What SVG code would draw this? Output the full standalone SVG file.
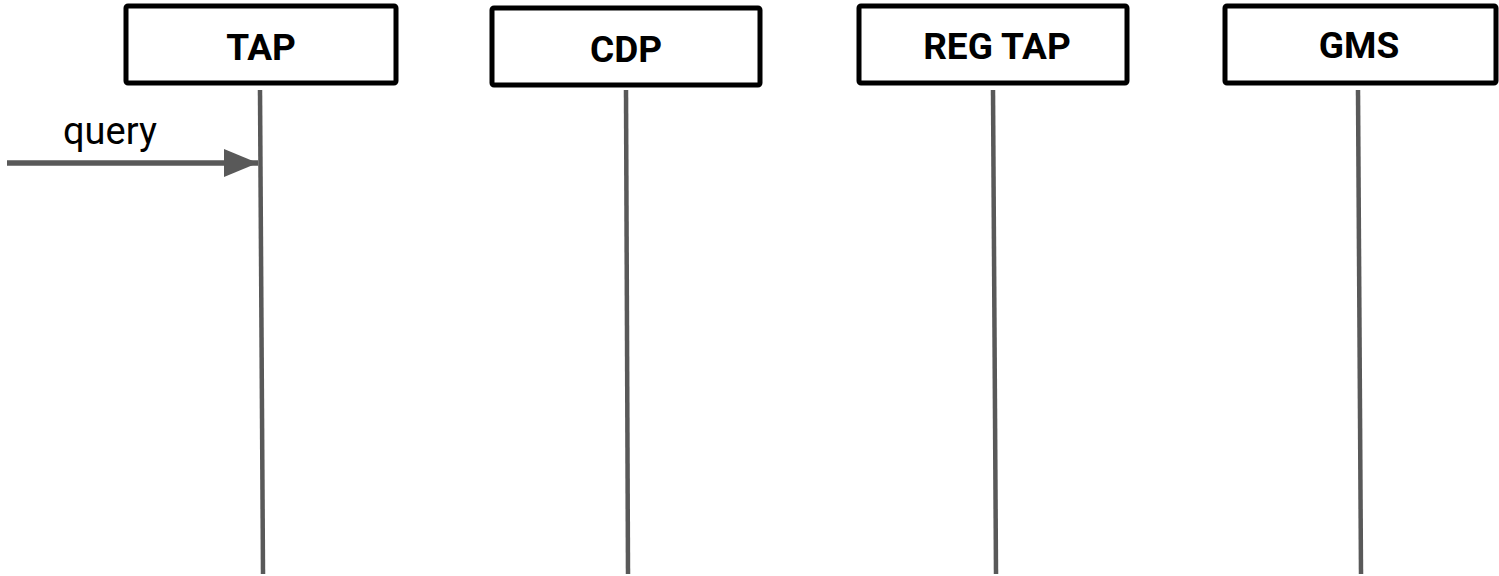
<svg xmlns="http://www.w3.org/2000/svg" width="1499" height="576" viewBox="0 0 1499 576">
<style>
.box{fill:#fff;stroke:#000;stroke-width:5;stroke-linejoin:round}
.lbl{font-family:Roboto,"Liberation Sans",sans-serif;font-weight:bold;font-size:37px;fill:#000;text-anchor:middle}
.life{stroke:#595959;stroke-width:4.5;fill:none}
.msg{stroke:#595959;stroke-width:5.5;fill:none}
.mtxt{font-family:Roboto,"Liberation Sans",sans-serif;font-size:38px;fill:#000}
</style>
<defs>
<marker id="ah" markerUnits="userSpaceOnUse" markerWidth="36" markerHeight="30" refX="34" refY="14" orient="auto">
<path d="M0,0 L34,14 L0,28 Z" fill="#595959"/>
</marker>
</defs>
<rect width="1499" height="576" fill="#fff"/>
<g id="TAP">
<rect class="box" x="126" y="6" width="270" height="77" rx="2"/>
<text class="lbl" x="261" y="60">TAP</text>
</g>
<g id="CDP">
<rect class="box" x="492" y="8" width="268" height="77" rx="2"/>
<text class="lbl" x="626" y="62">CDP</text>
</g>
<g id="REGTAP">
<rect class="box" x="859" y="6" width="268" height="77" rx="2"/>
<text class="lbl" x="997" y="59">REG TAP</text>
</g>
<g id="GMS">
<rect class="box" x="1225" y="6" width="271" height="77" rx="2"/>
<text class="lbl" x="1359" y="58">GMS</text>
</g>
<g id="connectors">
<line class="life" x1="260" y1="90" x2="263" y2="574"/>
<line class="life" x1="626" y1="90" x2="628" y2="574"/>
<line class="life" x1="993" y1="90" x2="996" y2="574"/>
<line class="life" x1="1358" y1="90" x2="1361" y2="574"/>
<line class="msg" x1="7" y1="163" x2="258" y2="163" marker-end="url(#ah)"/>
<text class="mtxt" x="63" y="144">query</text>
</g>
</svg>
